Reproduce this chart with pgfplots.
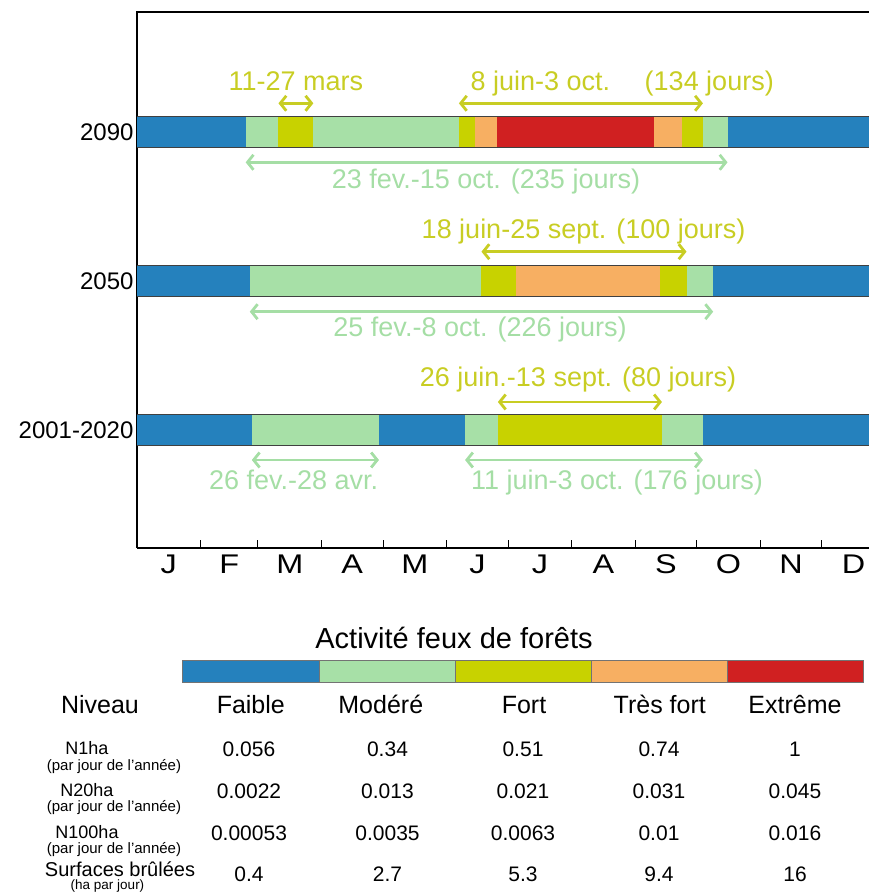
\documentclass[border=0pt]{standalone}
\usepackage{pgfplots}
\pgfplotsset{compat=1.18}
\usepackage{fontspec}
\setmainfont{Liberation Sans}
\newfontfamily\wide[FakeStretch=1.2]{Liberation Sans}
\usetikzlibrary{arrows.meta}

\definecolor{faible}{RGB}{37,129,189}
\definecolor{modere}{RGB}{167,224,167}
\definecolor{fort}{RGB}{200,210,0}
\definecolor{tresfort}{RGB}{247,175,98}
\definecolor{extreme}{RGB}{208,32,33}
\definecolor{txtfort}{RGB}{200,205,35}
\definecolor{txtmod}{RGB}{165,222,165}
\definecolor{barline}{RGB}{64,64,64}

\newcommand{\fs}[1]{\fontsize{#1}{#1}\selectfont}
% one coloured stretch of a year bar: start day, end day, bottom, top, colour
\newcommand{\seg}[5]{\addplot[draw=none,fill=#5] coordinates {(#1,#3) (#2,#3) (#2,#4) (#1,#4)} --cycle;}
% period arrow: start day, end day, height, colour
\newcommand{\per}[4]{\addplot[#4,line width=2.8pt,>={Straight Barb[length=6pt,width=15pt]},<->] coordinates {(#1,#3) (#2,#3)};}

\begin{document}
\begin{tikzpicture}[x=1pt,y=1pt]
\begin{axis}[
  at={(0,0)}, anchor=south west, scale only axis,
  width=732pt, height=536pt,
  xmin=0, xmax=357, ymin=0, ymax=536,
  axis x line*=bottom, axis y line*=left,
  axis line style={line width=1.2pt, black},
  xtick={15.5,45,74.5,105,135.5,166,196.5,227.5,258,288.5,319,349.5},
  xticklabels={J,F,M,A,M,J,J,A,S,O,N,D},
  minor xtick={31,59,90,120,151,181,212,243,273,304,334},
  major tick length=0pt,
  minor tick length=8pt,
  minor tick style={line width=1pt,black},
  tick align=inside,
  xticklabel style={font=\wide\fs{27}, yshift=-3pt},
  ytick={118,267,416},
  yticklabels={2001-2020,2050,2090},
  yticklabel style={font=\fs{24}},
]
% 2090
\seg{0}{357}{400.5}{431.5}{faible}
\seg{53}{288}{400.5}{431.5}{modere}
\seg{69}{86}{400.5}{431.5}{fort}
\seg{157}{276}{400.5}{431.5}{fort}
\seg{165}{265.7}{400.5}{431.5}{tresfort}
\seg{175.5}{252.2}{400.5}{431.5}{extreme}
% 2050
\seg{0}{357}{251.5}{282.5}{faible}
\seg{55}{281}{251.5}{282.5}{modere}
\seg{168}{268}{251.5}{282.5}{fort}
\seg{185}{255.2}{251.5}{282.5}{tresfort}
% 2001-2020
\seg{0}{357}{102.5}{133.5}{faible}
\seg{56}{118}{102.5}{133.5}{modere}
\seg{160}{276}{102.5}{133.5}{modere}
\seg{176}{256}{102.5}{133.5}{fort}
% bar edges
\addplot[barline,line width=1.3pt,unbounded coords=jump] coordinates {
(0,400.5) (357,400.5) (nan,nan) (0,431.5) (357,431.5) (nan,nan)
(0,251.5) (357,251.5) (nan,nan) (0,282.5) (357,282.5) (nan,nan)
(0,102.5) (357,102.5) (nan,nan) (0,133.5) (357,133.5)};

% periods
\per{69}{86}{444.7}{txtfort}
\per{157}{276}{444.7}{txtfort}
\per{53}{288}{385.7}{txtmod}
\per{168}{268}{296.3}{txtfort}
\per{55}{281}{236.3}{txtmod}
\per{176}{256}{146}{txtfort}
\per{56}{118}{88}{txtmod}
\per{160}{276}{88}{txtmod}

\begin{scope}[font=\fs{27}]
\node[anchor=base,text=txtfort] at (axis cs:77.5,457.3) {11-27 mars};
\node[anchor=base west,text=txtfort] at (axis cs:161,457.3) {8 juin-3 oct.};
\node[anchor=base west,text=txtfort] at (axis cs:245.9,457.3) {(134 jours)};
\node[anchor=base,text=txtmod] at (axis cs:170.2,359.7) {23 fev.-15 oct. (235 jours)};
\node[anchor=base,text=txtfort] at (axis cs:217.8,309.7) {18 juin-25 sept. (100 jours)};
\node[anchor=base,text=txtmod] at (axis cs:167.3,211.3) {25 fev.-8 oct. (226 jours)};
\node[anchor=base,text=txtfort] at (axis cs:215.1,161.3) {26 juin.-13 sept. (80 jours)};
\node[anchor=base,text=txtmod] at (axis cs:76.4,58.7) {26 fev.-28 avr.};
\node[anchor=base,text=txtmod] at (axis cs:234.1,58.7) {11 juin-3 oct. (176 jours)};
\end{scope}
\end{axis}
\draw[line width=1.2pt] (-0.6,536) -- (732,536);

% legend table
\node[anchor=base,font=\fs{29}] at (317,-100) {Activité feux de forêts};
\foreach \c [count=\i from 0] in {faible,modere,fort,tresfort,extreme}
  \filldraw[fill=\c,draw=black!55,line width=0.6pt] (45.7+136.12*\i,-134.3) rectangle ++(136.12,21.6);

\node[anchor=base,font=\fs{25}] at (-37,-165) {Niveau};
\foreach \x/\t in {113.8/Faible,243.8/Modéré,387/Fort,522.8/Très fort,658/Extrême}
  \node[anchor=base,font=\fs{25}] at (\x,-165) {\t};

\node[anchor=base,font=\fs{18},inner sep=1pt] at (-50,-206.5) {N1ha};
\node[anchor=base,font=\fs{15},inner sep=1pt] at (-23,-222) {(par jour de l'année)};
\node[anchor=base,font=\fs{18},inner sep=1pt] at (-50,-248.3) {N20ha};
\node[anchor=base,font=\fs{15},inner sep=1pt] at (-23,-263.8) {(par jour de l'année)};
\node[anchor=base,font=\fs{18},inner sep=1pt] at (-50,-290) {N100ha};
\node[anchor=base,font=\fs{15},inner sep=1pt] at (-23,-305.5) {(par jour de l'année)};
\node[anchor=base,font=\fs{20},inner sep=1pt] at (-17,-328) {Surfaces brûlées};
\node[anchor=base,font=\fs{13.5},inner sep=1pt] at (-29.5,-341.8) {(ha par jour)};

\foreach \y/\a/\b/\c/\d/\e in {
  -208.5/0.056/0.34/0.51/0.74/1,
  -250.3/0.0022/0.013/0.021/0.031/0.045,
  -292/0.00053/0.0035/0.0063/0.01/0.016,
  -333/0.4/2.7/5.3/9.4/16}{
  \node[anchor=base,font=\fs{21}] at (112,\y) {\a};
  \node[anchor=base,font=\fs{21}] at (250.5,\y) {\b};
  \node[anchor=base,font=\fs{21}] at (386,\y) {\c};
  \node[anchor=base,font=\fs{21}] at (522,\y) {\d};
  \node[anchor=base,font=\fs{21}] at (658,\y) {\e};
}

\pgfresetboundingbox
\path[use as bounding box] (-137,-345) rectangle (732,548);
\end{tikzpicture}
\end{document}
